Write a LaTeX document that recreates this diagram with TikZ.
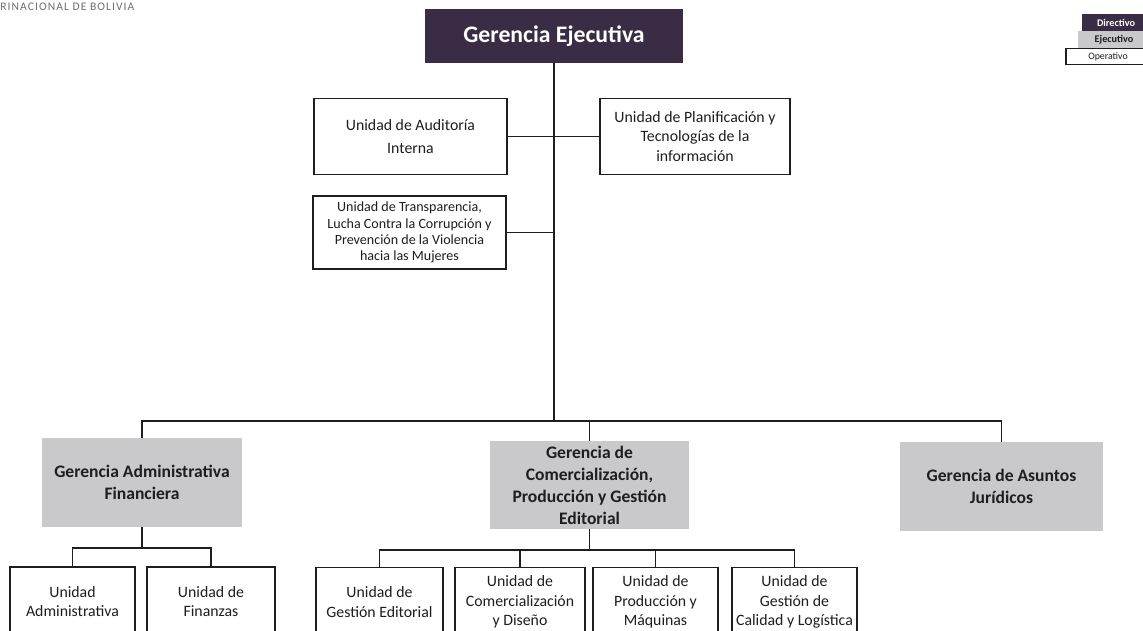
\documentclass[tikz,border=0pt]{standalone}
\usepackage{fontspec}
\setmainfont{Carlito}
\usetikzlibrary{positioning}
\definecolor{ink}{HTML}{1E1E1E}
\definecolor{dircol}{HTML}{3A2C44}
\definecolor{gercol}{HTML}{C9C9CB}
\definecolor{headcol}{HTML}{6E6E6E}

\begin{document}
\begin{tikzpicture}[x=0.02cm, y=-0.02cm, line cap=rect,
  ln/.style={draw=ink, line width=0.6pt},
  dirbox/.style={fill=dircol, text=white, inner sep=0pt,
                 font=\bfseries\fontsize{13.5}{16}\selectfont},
  gerbox/.style={fill=gercol, text=ink, align=center, inner sep=0pt,
                 minimum height=1.77cm, font=\bfseries\fontsize{10}{12.5}\selectfont},
  unibox/.style={draw=ink, line width=0.6pt, fill=white, text=ink, align=center,
                 inner sep=0pt, font=\fontsize{9}{13}\selectfont},
  tightbox/.style={unibox, font=\fontsize{9}{11.2}\selectfont},
  smallbox/.style={unibox, font=\fontsize{8}{9.2}\selectfont},
  leg/.style={inner sep=0pt, minimum height=0.33cm, font=\fontsize{5.6}{6}\selectfont}]

\useasboundingbox (0,0) rectangle (1143,631);
\clip (0,0) rectangle (1143,631);

\node[anchor=west, text=headcol, inner sep=0pt,
      font=\fontsize{6.6}{7}\selectfont\addfontfeatures{LetterSpace=9}]
  (head) at (0,7) {RINACIONAL DE BOLIVIA};

% legend
\node[leg, fill=dircol, text=white, minimum width=1.36cm, font=\bfseries\fontsize{5.8}{6}\selectfont]
  (ldir) at (1116,22.5) {Directivo};
\node[leg, fill=gercol, text=ink, minimum width=1.44cm, font=\bfseries\fontsize{5.8}{6}\selectfont]
  (lejec) at (1114,39.5) {Ejecutivo};
\node[leg, draw=ink, line width=0.6pt, fill=white, text=ink, minimum width=1.68cm]
  (lop) at (1108,56.5) {Operativo};

% top
\node[dirbox, minimum width=5.16cm, minimum height=1.08cm] (ejec) at (554,36) {Gerencia Ejecutiva};
\node[unibox, minimum width=3.86cm, minimum height=1.52cm] (aud) at (410.5,136.5) {Unidad de Auditoría\\ Interna};
\node[tightbox, minimum width=3.80cm, minimum height=1.52cm] (plan) at (695,136.5) {Unidad de Planificación y\\ Tecnologías de la\\ información};
\node[smallbox, minimum width=3.86cm, minimum height=1.46cm] (transp) at (409.5,232.5)
  {Unidad de Transparencia,\\ Lucha Contra la Corrupción y\\ Prevención de la Violencia\\ hacia las Mujeres};

% gerencias
\node[gerbox, minimum width=4.00cm] (gadm) at (142,482.5) {Gerencia Administrativa\\ Financiera};
\node[gerbox, minimum width=3.98cm] (gcom) at (589.5,485) {Gerencia de\\ Comercialización,\\ Producción y Gestión\\ Editorial};
\node[gerbox, minimum width=4.06cm] (gjur) at (1001.5,486.5) {Gerencia de Asuntos\\ Jurídicos};

% unidades
\node[tightbox, minimum width=2.50cm, minimum height=1.38cm] (uadm) at (72.5,601.5) {Unidad\\ Administrativa};
\node[tightbox, minimum width=2.56cm, minimum height=1.38cm] (ufin) at (211,601.5) {Unidad de\\ Finanzas};
\node[tightbox, minimum width=2.54cm, minimum height=1.38cm] (ued) at (379.5,602) {Unidad de\\ Gestión Editorial};
\node[tightbox, minimum width=2.60cm, minimum height=1.38cm] (ucom) at (520,602) {Unidad de\\ Comercialización\\ y Diseño};
\node[tightbox, minimum width=2.50cm, minimum height=1.38cm] (upro) at (655.5,602) {Unidad de\\ Producción y\\ Máquinas};
\node[tightbox, minimum width=2.50cm, minimum height=1.38cm] (ucal) at (794.5,602) {Unidad de\\ Gestión de\\ Calidad y Logística};

\coordinate (busM) at (554,421);
\coordinate (busL) at (142,421);
\coordinate (busR) at (1001.5,421);
\coordinate (cbA) at (142,548);
\coordinate (cbB) at (589.5,550);

\draw[ln] (ejec.south) -- (busM);
\draw[ln] (aud.east) -- (plan.west);
\draw[ln] (transp.east) -- (transp.east -| busM);
\draw[ln] (gadm.north) -- (busL) -- (busR) -- (gjur.north);
\draw[ln] (gcom.north) -- (gcom.north |- busM);

\draw[ln] (gadm.south) -- (cbA);
\draw[ln] (uadm.north) |- (cbA) -| (ufin.north);
\draw[ln] (gcom.south) -- (cbB);
\draw[ln] (ued.north) -- (ued.north |- cbB) -- (ucal.north |- cbB) -- (ucal.north);
\draw[ln] (ucom.north) -- (ucom.north |- cbB);
\draw[ln] (upro.north) -- (upro.north |- cbB);

\end{tikzpicture}
\end{document}
